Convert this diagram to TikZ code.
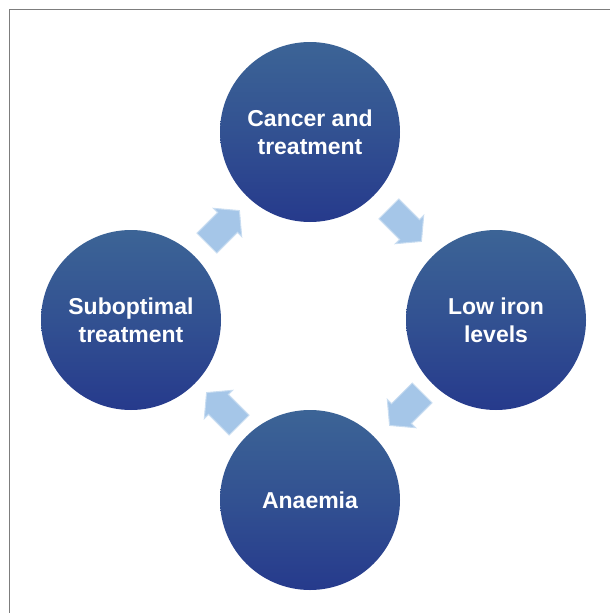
\documentclass[tikz,border=0pt]{standalone}
\usepackage{fontspec}
\setmainfont{Liberation Sans}
\usetikzlibrary{shapes.arrows}
\definecolor{ctop}{RGB}{60,100,150}
\definecolor{cbot}{RGB}{38,58,140}
\definecolor{arrowc}{RGB}{165,198,232}
\definecolor{framec}{RGB}{125,125,125}
\tikzset{
  stage/.style={circle, minimum size=180pt, inner sep=0pt, top color=ctop, bottom color=cbot, middle color=ctop!55!cbot,
    text=white, align=center, font=\fontsize{23}{28}\selectfont\bfseries},
  cyclearrow/.style={single arrow, draw=arrowc!60!white, line width=1pt, fill=arrowc, inner sep=13.5pt, minimum height=46pt,
    single arrow head extend=6pt, single arrow tip angle=100},
}
\begin{document}
\begin{tikzpicture}[x=1pt,y=-1pt]
\useasboundingbox (0,0) rectangle (610,613);
\draw[framec, line width=1.5pt] (9.5,613) -- (9.5,9.5) -- (610,9.5);
\node[stage] (cancer) at (310,132) {Cancer and\\treatment};
\node[stage] (iron) at (496,320) {Low iron\\levels};
\node[stage] (anaemia) at (310,500) {Anaemia};
\node[stage] (subopt) at (131,320) {Suboptimal\\treatment};
\node[cyclearrow, rotate=45] (a1) at (219,231) {};
\node[cyclearrow, rotate=-45] (a2) at (401,221) {};
\node[cyclearrow, rotate=-135] (a3) at (410,405) {};
\node[cyclearrow, rotate=135] (a4) at (227,413) {};
\end{tikzpicture}
\end{document}
